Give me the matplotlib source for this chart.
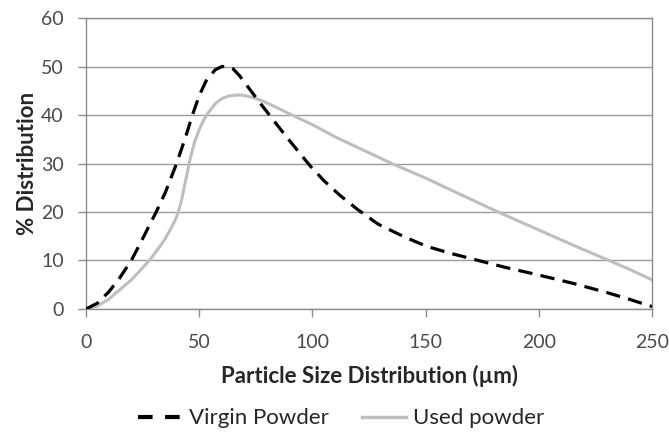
import matplotlib.pyplot as plt
from matplotlib.lines import Line2D

# particle size (um) vs % distribution
virgin_x = [0, 5, 10, 15, 20, 25, 31, 35, 40, 44, 47, 50, 53, 57, 60, 62, 65, 68, 72, 76, 81,
            86, 92, 99, 105, 112, 120, 129, 140, 150, 160, 170, 185, 200, 215, 230, 240, 250]
virgin_y = [0, 1.2, 3.5, 6.5, 10, 14.5, 20, 24, 30, 35.5, 40, 44, 47, 49.3, 50, 50, 49.5, 48, 45.5, 43, 40,
            37, 33.5, 29.5, 26.5, 23.5, 20.5, 17.5, 15, 13, 11.6, 10.4, 8.6, 7, 5.3, 3.4, 2, 0.5]

used_x = [0, 5, 10, 15, 20, 24, 28, 32, 35, 38, 40, 42, 44, 46, 48, 50, 52, 54, 57, 60, 63, 66, 69,
          73, 78, 83, 91, 100, 110, 120, 135, 150, 165, 182, 200, 215, 231, 240, 250]
used_y = [0, 0.6, 2, 4, 6, 8, 10, 12.5, 14.5, 17, 19, 22, 26.5, 31, 34.5, 37, 39, 40.5, 42.3, 43.4, 43.9, 44.1, 44.1,
          43.7, 42.9, 41.8, 40, 38, 35.5, 33.3, 30, 27, 23.7, 20, 16.3, 13.2, 10, 8.2, 6]

x_ticks = [0, 50, 100, 150, 200, 250]
y_ticks = [0, 10, 20, 30, 40, 50, 60]

plt.rcParams['font.family'] = ['Lato', 'DejaVu Sans']

fig = plt.figure(figsize=(6.69, 4.33), dpi=100)
ax = fig.add_axes([0.1286, 0.2864, 0.8460, 0.6720])

ax.plot(virgin_x, virgin_y, color='black', lw=2.3, ls=(0, (4.5, 2.6)), zorder=3)
ax.plot(used_x, used_y, color='#BEBEBE', lw=2.2, zorder=2)

ax.set_xlim(0, 250)
ax.set_ylim(0, 60)
ax.set_xticks(x_ticks)
ax.set_yticks(y_ticks)
ax.grid(axis='y', color='#9A9A9A', lw=1.0)
ax.set_axisbelow(True)

for side in ['left', 'bottom', 'right', 'top']:
    ax.spines[side].set_color('#8C8C8C')
    ax.spines[side].set_linewidth(1.0)
ax.tick_params(colors='#8C8C8C', labelcolor='#4A4A4A', labelsize=14, length=6, width=1)
ax.tick_params(axis='x', pad=12)
ax.tick_params(axis='y', pad=10)

ax.set_xlabel('Particle Size Distribution (µm)', fontsize=16, fontweight='bold', color='#262626', labelpad=10)
ax.set_ylabel('% Distribution', fontsize=16, fontweight='bold', color='#262626', labelpad=2)

# legend handles drawn like the Excel ones (short dash pattern)
handles = [Line2D([], [], color='black', lw=3, ls=(0, (3.5, 3))),
           Line2D([], [], color='#BEBEBE', lw=2.5)]
fig.legend(handles, ['Virgin Powder', 'Used powder'], loc='center', bbox_to_anchor=(0.51, 0.034),
           ncol=2, frameon=False, fontsize=16, handlelength=1.95, columnspacing=1.5,
           handletextpad=0.35, labelcolor='#262626')

fig.savefig('out.png', dpi=100)
